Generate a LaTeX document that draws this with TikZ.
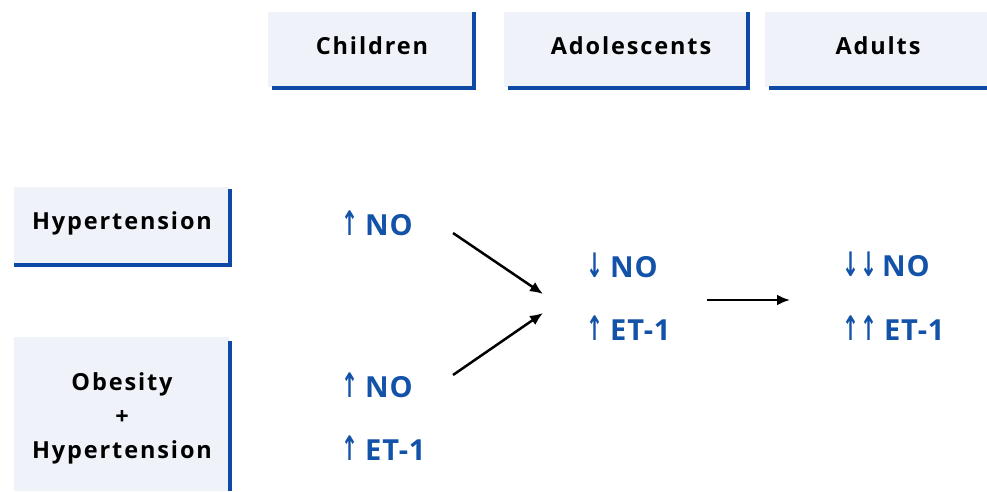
\documentclass[tikz,border=0pt]{standalone}
\usepackage{fontspec}
\usepackage{graphicx}
\setmainfont{Open Sans}
\newfontfamily\hdrfont[LetterSpace=8]{Open Sans}
\newfontfamily\valfont[LetterSpace=3]{Open Sans}
\newfontfamily\arrfont{DejaVu Sans}
\usetikzlibrary{arrows.meta}
\definecolor{boxfill}{RGB}{239,243,249}
\definecolor{boxblue}{RGB}{14,73,166}
\definecolor{valblue}{RGB}{18,82,168}
\tikzset{
  hdrtext/.style={font=\hdrfont\bfseries\fontsize{23.5}{34}\selectfont, text=black, inner sep=0pt},
  valtext/.style={font=\valfont\bfseries\fontsize{29}{34}\selectfont, text=valblue, inner sep=0pt, anchor=base west},
  conn/.style={-{Latex[length=13pt,width=11pt]}, line width=2.5pt, black},
  edge/.style={boxblue, line width=4pt},
}
\newcommand{\ua}{\scalebox{0.75}[1.25]{\arrfont\fontsize{27}{30}\selectfont ↑}}
\newcommand{\da}{\scalebox{0.75}[1.25]{\arrfont\fontsize{27}{30}\selectfont ↓}}
\begin{document}
\begin{tikzpicture}[x=1pt,y=-1pt]
\useasboundingbox (0,0) rectangle (987,491);
% header boxes
\fill[boxfill] (268,12) rectangle (473,87);
\draw[edge] (474,12) -- (474,90);
\draw[edge] (272,88) -- (476,88);
\node[hdrtext] (children) at (372,46) {Children};

\fill[boxfill] (504,12) rectangle (746,87);
\draw[edge] (748,12) -- (748,90);
\draw[edge] (508,88) -- (750,88);
\node[hdrtext] (adolescents) at (631,46) {Adolescents};

\fill[boxfill] (765,12) rectangle (987,87);
\draw[edge] (769,88) -- (987,88);
\node[hdrtext] (adults) at (878,46) {Adults};

% left boxes
\fill[boxfill] (14,187) rectangle (229,264);
\draw[edge] (230,189) -- (230,267);
\draw[edge] (14,265) -- (232,265);
\node[hdrtext] (hyp) at (122,223) {Hypertension};

\fill[boxfill] (14,337) rectangle (229,491);
\draw[edge] (230,341) -- (230,491);
\node[hdrtext, align=center] (obhyp) at (122,418) {Obesity\\+\\Hypertension};

% values
\node[valtext] (c1) at (341,235) {\ua\hspace{7pt}NO};
\node[valtext] (c2) at (341,397) {\ua\hspace{7pt}NO};
\node[valtext] (c3) at (341,460) {\ua\hspace{7pt}ET-1};
\node[valtext] (ad1) at (586,277) {\da\hspace{7pt}NO};
\node[valtext] (ad2) at (586,340) {\ua\hspace{7pt}ET-1};
\node[valtext] (au1) at (842,276) {\da\hspace{1pt}\da\hspace{5pt}NO};
\node[valtext] (au2) at (842,340) {\ua\hspace{1pt}\ua\hspace{7pt}ET-1};

% connectors
\coordinate (s1) at (453,233);
\coordinate (e1) at (543,294);
\coordinate (s2) at (453,375);
\coordinate (e2) at (543,313);
\coordinate (s3) at (707,300);
\coordinate (e3) at (790,300);
\draw[conn] (s1) -- (e1);
\draw[conn] (s2) -- (e2);
\draw[conn] (s3) -- (e3);
\end{tikzpicture}
\end{document}
